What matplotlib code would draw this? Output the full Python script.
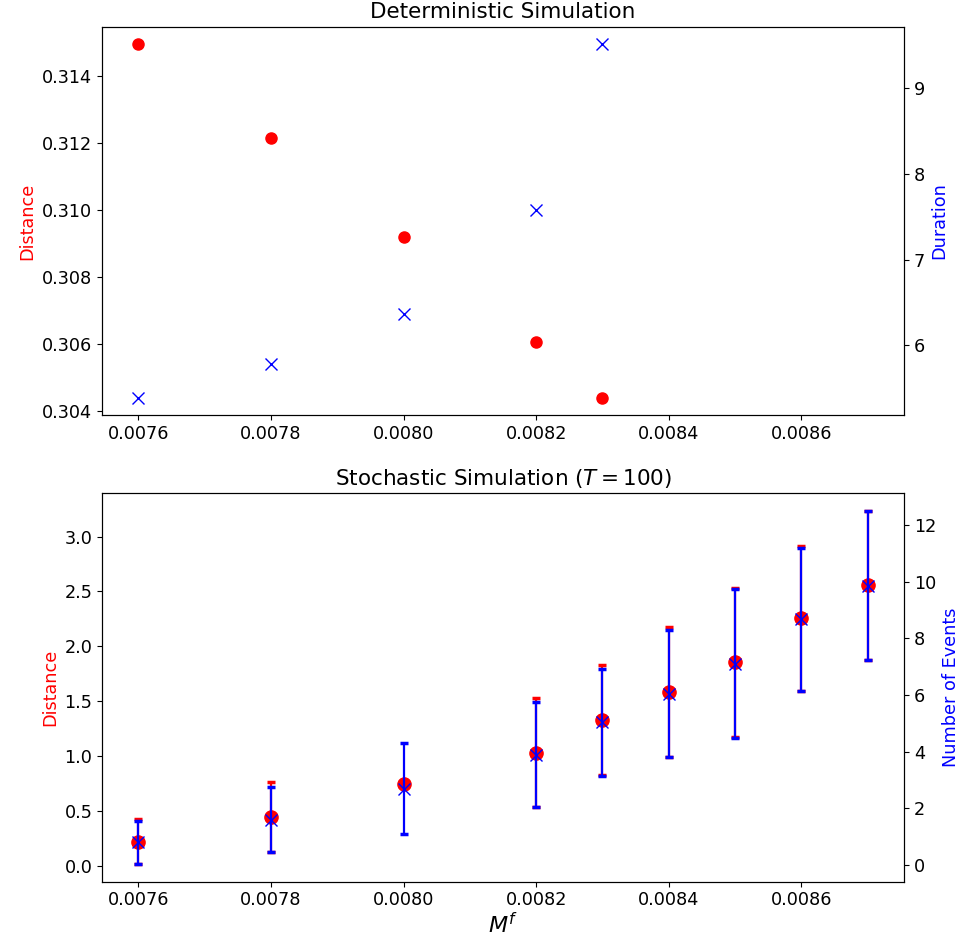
"""
Deterministic vs stochastic simulation: distance / duration / event counts
against the fitness parameter M^f.
"""

import numpy as np
import matplotlib
matplotlib.use("Agg")
import matplotlib.pyplot as plt


# ── DATA ──────────────────────────────────────────────────────────────────────
mf_det   = [0.0076, 0.0078, 0.0080, 0.0082, 0.0083]
dist_det = [0.31494, 0.31214, 0.30918, 0.30604, 0.30439]
dur_det  = [5.39, 5.78, 6.37, 7.58, 9.51]

mf_sto       = [0.0076, 0.0078, 0.0080, 0.0082, 0.0083, 0.0084, 0.0085, 0.0086, 0.0087]
dist_mean    = [0.22, 0.441, 0.742, 1.031, 1.329, 1.581, 1.854, 2.257, 2.556]
dist_std     = [0.204, 0.319, 0.0, 0.496, 0.502, 0.593, 0.678, 0.661, 0.680]
events_mean  = [0.80, 1.606, 2.69, 3.90, 5.035, 6.05, 7.10, 8.68, 9.87]
events_std   = [0.765, 1.158, 1.606, 1.854, 1.883, 2.25, 2.63, 2.53, 2.64]


# ── FIGURE ────────────────────────────────────────────────────────────────────
TICK_FS  = 12.7
LABEL_FS = 12.7
TITLE_FS = 15.5

plt.rcParams["xtick.labelsize"] = TICK_FS
plt.rcParams["ytick.labelsize"] = TICK_FS

fig, (ax1, ax3) = plt.subplots(2, 1, figsize=(9.64, 9.40), dpi=100, sharex=True)
fig.subplots_adjust(left=0.1058, right=0.9378, top=0.9716, bottom=0.062, hspace=0.2)


# ── TOP: deterministic ────────────────────────────────────────────────────────
ax1.plot(mf_det, dist_det, "o", color="red", markersize=8)
ax1.set_ylabel("Distance", color="red", fontsize=LABEL_FS)
ax1.set_title("Deterministic Simulation", fontsize=TITLE_FS)
ax1.tick_params(labelbottom=True)

ax2 = ax1.twinx()
ax2.plot(mf_det, dur_det, "x", color="blue", markersize=8)
ax2.set_ylabel("Duration", color="blue", fontsize=LABEL_FS)


# ── BOTTOM: stochastic ────────────────────────────────────────────────────────
ax3.errorbar(mf_sto, dist_mean, yerr=dist_std, fmt="o", color="red",
             markersize=9.5, elinewidth=1.6, capsize=3, capthick=2.5)
ax3.set_ylabel("Distance", color="red", fontsize=LABEL_FS)
ax3.set_xlabel("$M^f$", fontsize=16, labelpad=2)
ax3.set_title("Stochastic Simulation ($T = 100$)", fontsize=TITLE_FS)

ax4 = ax3.twinx()
ax4.errorbar(mf_sto, events_mean, yerr=events_std, fmt="x", color="blue",
             markersize=8.5, elinewidth=1.6, capsize=3, capthick=2.5)
ax4.set_ylabel("Number of Events", color="blue", fontsize=LABEL_FS)

plt.savefig("out.png", dpi=100)
print("Saved out.png")
